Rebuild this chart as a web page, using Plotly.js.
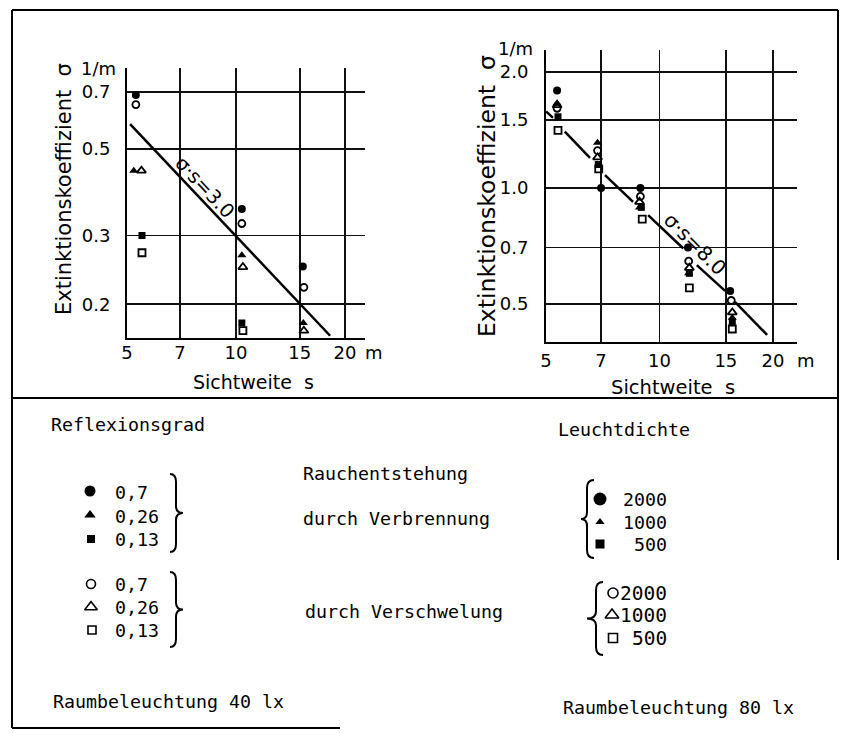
<!DOCTYPE html>
<html><head><meta charset="utf-8">
<script src="https://cdn.plot.ly/plotly-3.0.1.min.js"></script>
<style>html,body{margin:0;padding:0;background:#fff}</style>
</head><body><div id="chart" style="width:845px;height:733px"></div>
<script>
// ---------- data ----------
const xTickVals = [5, 7, 10, 15, 20];
const xTickText = ['5', '7', '10', '15', '20'];
const leftYTickVals = [0.2, 0.3, 0.5, 0.7];
const leftYTickText = ['0.2', '0.3', '0.5', '0.7'];
const rightYTickVals = [0.5, 0.7, 1.0, 1.5, 2.0];
const rightYTickText = ['0.5', '0.7', '1.0', '1.5', '2.0'];

// left chart: Raumbeleuchtung 40 lx (Reflexionsgrad)
const L_fc_x = [5.29, 10.38, 15.3],  L_fc_y = [0.688, 0.351, 0.25];   // ● 0,7 Verbrennung
const L_ft_x = [5.22, 10.38, 15.35], L_ft_y = [0.44, 0.267, 0.179];   // ▲ 0,26
const L_fs_x = [5.5, 10.38],         L_fs_y = [0.30, 0.179];          // ■ 0,13
const L_oc_x = [5.29, 10.38, 15.4],  L_oc_y = [0.65, 0.322, 0.221];   // ○ 0,7 Verschwelung
const L_ot_x = [5.48, 10.45, 15.4],  L_ot_y = [0.44, 0.249, 0.171];   // △ 0,26
const L_os_x = [5.5, 10.45],         L_os_y = [0.271, 0.171];         // □ 0,13
const L_line_x = [5.1, 18.2], L_line_y = [0.579, 0.166];              // σ·s = 3.0

// right chart: Raumbeleuchtung 80 lx (Leuchtdichte)
const R_fc_x = [5.35, 7.0, 8.9, 11.9, 15.4],   R_fc_y = [1.79, 1.0, 1.0, 0.70, 0.54];
const R_ft_x = [5.35, 6.85, 8.85, 11.95, 15.6], R_ft_y = [1.66, 1.31, 0.89, 0.60, 0.46];
const R_fs_x = [5.38, 6.88, 8.95, 12.0, 15.6],  R_fs_y = [1.53, 1.15, 0.89, 0.60, 0.45];
const R_oc_x = [5.35, 6.85, 8.9, 11.95, 15.5],  R_oc_y = [1.61, 1.25, 0.95, 0.645, 0.51];
const R_ot_x = [5.35, 6.85, 8.85, 12.0, 15.6],  R_ot_y = [1.64, 1.20, 0.92, 0.62, 0.475];
const R_os_x = [5.38, 6.9, 9.0, 12.0, 15.6],    R_os_y = [1.41, 1.12, 0.83, 0.55, 0.43];
const R_line_x = [5.0, 5.22, null, 5.61, 6.54, null, 7.17, 8.51, null, 9.33, 11.57, null, 12.56, 14.93, null, 15.85, 19.3];
const R_line_y = [1.58, 1.52, null, 1.40, 1.196, null, 1.08, 0.92, null, 0.85, 0.696, null, 0.63, 0.54, null, 0.506, 0.415];

const leftLegendLabels = ['0,7', '0,26', '0,13'];
const rightLegendLabels = ['2000', '1000', '500'];

// ---------- styles ----------
const K = '#000';
const MS = {
  fc: {symbol: 'circle', size: 8, color: K},
  ft: {symbol: 'triangle-up', size: 8, color: K},
  fs: {symbol: 'square', size: 7, color: K},
  oc: {symbol: 'circle-open', size: 7, color: K, line: {width: 1.8, color: K}},
  ot: {symbol: 'triangle-up-open', size: 8, color: K, line: {width: 1.8, color: K}},
  os: {symbol: 'square-open', size: 7, color: K, line: {width: 1.8, color: K}}
};
function pts(x, y, st, xa, ya) {
  return {x: x, y: y, type: 'scatter', mode: 'markers', marker: st, xaxis: xa, yaxis: ya, hoverinfo: 'skip', showlegend: false};
}
const traces = [
  {x: L_line_x, y: L_line_y, type: 'scatter', mode: 'lines', line: {color: K, width: 2.5}, xaxis: 'x', yaxis: 'y', hoverinfo: 'skip', showlegend: false},
  pts(L_fc_x, L_fc_y, MS.fc, 'x', 'y'), pts(L_ft_x, L_ft_y, MS.ft, 'x', 'y'), pts(L_fs_x, L_fs_y, MS.fs, 'x', 'y'),
  pts(L_oc_x, L_oc_y, MS.oc, 'x', 'y'), pts(L_ot_x, L_ot_y, MS.ot, 'x', 'y'), pts(L_os_x, L_os_y, MS.os, 'x', 'y'),
  {x: R_line_x, y: R_line_y, type: 'scatter', mode: 'lines', connectgaps: false, line: {color: K, width: 2.5}, xaxis: 'x2', yaxis: 'y2', hoverinfo: 'skip', showlegend: false},
  pts(R_fc_x, R_fc_y, MS.fc, 'x2', 'y2'), pts(R_ft_x, R_ft_y, MS.ft, 'x2', 'y2'), pts(R_fs_x, R_fs_y, MS.fs, 'x2', 'y2'),
  pts(R_oc_x, R_oc_y, MS.oc, 'x2', 'y2'), pts(R_ot_x, R_ot_y, MS.ot, 'x2', 'y2'), pts(R_os_x, R_os_y, MS.os, 'x2', 'y2')
];

// legend markers (page pixel coordinates on overlay axis)
const legMarks = [
  {x: 90, y: 491, s: {symbol: 'circle', size: 11, color: K}},
  {x: 90, y: 515, s: {symbol: 'triangle-up', size: 10, color: K}},
  {x: 91, y: 539, s: {symbol: 'square', size: 8, color: K}},
  {x: 91, y: 584, s: {symbol: 'circle-open', size: 9, color: K, line: {width: 1.6, color: K}}},
  {x: 91, y: 607, s: {symbol: 'triangle-up-open', size: 11, color: K, line: {width: 1.6, color: K}}},
  {x: 92, y: 630, s: {symbol: 'square-open', size: 8, color: K, line: {width: 1.6, color: K}}},
  {x: 600, y: 499, s: {symbol: 'circle', size: 13, color: K}},
  {x: 600, y: 522, s: {symbol: 'triangle-up', size: 8, color: K}},
  {x: 600, y: 544, s: {symbol: 'square', size: 9, color: K}},
  {x: 613, y: 593, s: {symbol: 'circle-open', size: 10, color: K, line: {width: 1.6, color: K}}},
  {x: 612, y: 615, s: {symbol: 'triangle-up-open', size: 12, color: K, line: {width: 1.6, color: K}}},
  {x: 613, y: 638, s: {symbol: 'square-open', size: 9, color: K, line: {width: 1.6, color: K}}}
];
legMarks.forEach(m => traces.push({x: [m.x], y: [m.y], type: 'scatter', mode: 'markers', marker: m.s, xaxis: 'x3', yaxis: 'y3', hoverinfo: 'skip', showlegend: false}));

// ---------- layout helpers ----------
const CF = 'DejaVu Sans, sans-serif';
const MF = 'DejaVu Sans Mono, monospace';
function A(x, y, text, o) {
  o = o || {};
  return Object.assign({x: x, y: y, xref: 'x3', yref: 'y3', text: text, showarrow: false,
    xanchor: o.xa || 'center', yanchor: 'middle',
    font: {family: o.mono ? MF : CF, size: o.size || 18, color: K}}, o.extra || {});
}
const annotations = [
  // left chart texts
  A(64, 189, 'Extinktionskoeffizient  σ', {size: 21, extra: {textangle: -90}}),
  A(98, 68, '1/m', {size: 18}),
  A(253, 382, 'Sichtweite  s', {size: 19}),
  A(374, 352, 'm', {size: 18}),
  A(205, 187, 'σ·s=3.0', {size: 19.5, extra: {textangle: 47}}),
  // right chart texts
  A(487, 196, 'Extinktionskoeffizient  σ', {size: 23.5, extra: {textangle: -90}}),
  A(515, 48, '1/m', {size: 18}),
  A(673, 387, 'Sichtweite  s', {size: 19.5}),
  A(806, 360, 'm', {size: 18}),
  A(695, 244, 'σ·s=8.0', {size: 20, extra: {textangle: 45}}),
  // legend block
  A(49, 424, 'Reflexionsgrad', {mono: true, xa: 'left', size: 18.3}),
  A(556, 429, 'Leuchtdichte', {mono: true, xa: 'left', size: 18.3}),
  A(301, 473, 'Rauchentstehung', {mono: true, xa: 'left', size: 18.3}),
  A(301, 518, 'durch Verbrennung', {mono: true, xa: 'left', size: 18.3}),
  A(303, 611, 'durch Verschwelung', {mono: true, xa: 'left', size: 18.3}),
  A(51, 701, 'Raumbeleuchtung 40 lx', {mono: true, xa: 'left', size: 18.3}),
  A(561, 707, 'Raumbeleuchtung 80 lx', {mono: true, xa: 'left', size: 18.3})
];
const leftLegY = [[492, 516, 539], [584, 607, 630]];
leftLegY.forEach(g => g.forEach((yy, i) => annotations.push(A(113, yy, leftLegendLabels[i], {mono: true, xa: 'left', size: 18.3}))));
const rightLegY = [[499, 522, 544], [593, 615, 638]];
rightLegY.forEach((g, gi) => g.forEach((yy, i) => annotations.push(A(669, yy, rightLegendLabels[i], {mono: true, xa: 'right', size: gi ? 19.5 : 18.3}))));

function L(x0, y0, x1, y1, w) {
  return {type: 'line', xref: 'x3', yref: 'y3', x0: x0, y0: y0, x1: x1, y1: y1, line: {color: K, width: w || 2}};
}
function P(path) {
  return {type: 'path', xref: 'x3', yref: 'y3', path: path, line: {color: K, width: 2}};
}
function rbrace(x, top, bot, tip) {
  const m = (top + bot) / 2, v = x + 6;
  return P(`M ${x} ${top} Q ${v} ${top} ${v} ${top + 8} L ${v} ${m - 7} Q ${v} ${m} ${tip} ${m} Q ${v} ${m} ${v} ${m + 7} L ${v} ${bot - 8} Q ${v} ${bot} ${x} ${bot}`);
}
function lbrace(x, top, bot, tip) {
  const m = (top + bot) / 2, v = x - 7;
  return P(`M ${x} ${top} Q ${v} ${top} ${v} ${top + 8} L ${v} ${m - 7} Q ${v} ${m} ${tip} ${m} Q ${v} ${m} ${v} ${m + 7} L ${v} ${bot - 8} Q ${v} ${bot} ${x} ${bot}`);
}
const shapes = [
  L(12, 10, 838, 10), L(12, 10, 12, 728), L(838, 10, 838, 560), L(12, 398, 838, 398), L(12, 728, 340, 728),
  rbrace(170, 474, 552, 183), rbrace(170, 572, 647, 183),
  lbrace(594, 480, 558, 581), lbrace(603, 582, 655, 587)
];

const ax = {type: 'log', showgrid: true, gridcolor: '#111', gridwidth: 1.8, zeroline: false,
  showline: true, linecolor: K, linewidth: 2, ticks: 'outside', tickcolor: 'rgba(0,0,0,0)',
  tickfont: {family: CF, size: 18, color: K}, fixedrange: true};

const layout = {
  width: 845, height: 733, margin: {l: 0, r: 0, t: 0, b: 0},
  paper_bgcolor: '#fff', plot_bgcolor: 'rgba(0,0,0,0)', showlegend: false,
  xaxis: Object.assign({}, ax, {domain: [127/845, 365/845], range: [Math.log10(5), Math.log10(5) + 238/362],
    tickvals: xTickVals, ticktext: xTickText, ticklen: 1, ticklabelstandoff: -4, anchor: 'y'}),
  yaxis: Object.assign({}, ax, {domain: [1 - 338/733, 1 - 68/733], range: [Math.log10(0.7) - 246/390, Math.log10(0.7) + 24/390],
    tickvals: leftYTickVals, ticktext: leftYTickText, ticklen: 11, anchor: 'x'}),
  xaxis2: Object.assign({}, ax, {domain: [546/845, 797/845], range: [Math.log10(5), Math.log10(5) + 251/377],
    tickvals: xTickVals, ticktext: xTickText, ticklen: 1, anchor: 'y2'}),
  yaxis2: Object.assign({}, ax, {domain: [1 - 342/733, 1 - 50/733], range: [Math.log10(2) - 270/385, Math.log10(2) + 22/385],
    tickvals: rightYTickVals, ticktext: rightYTickText, ticklen: 12, anchor: 'x2'}),
  xaxis3: {domain: [0, 1], range: [0, 845], visible: false, fixedrange: true, anchor: 'y3'},
  yaxis3: {domain: [0, 1], range: [733, 0], visible: false, fixedrange: true, anchor: 'x3'},
  annotations: annotations,
  shapes: shapes
};
Plotly.newPlot('chart', traces, layout, {staticPlot: true, displayModeBar: false});
</script></body></html>
